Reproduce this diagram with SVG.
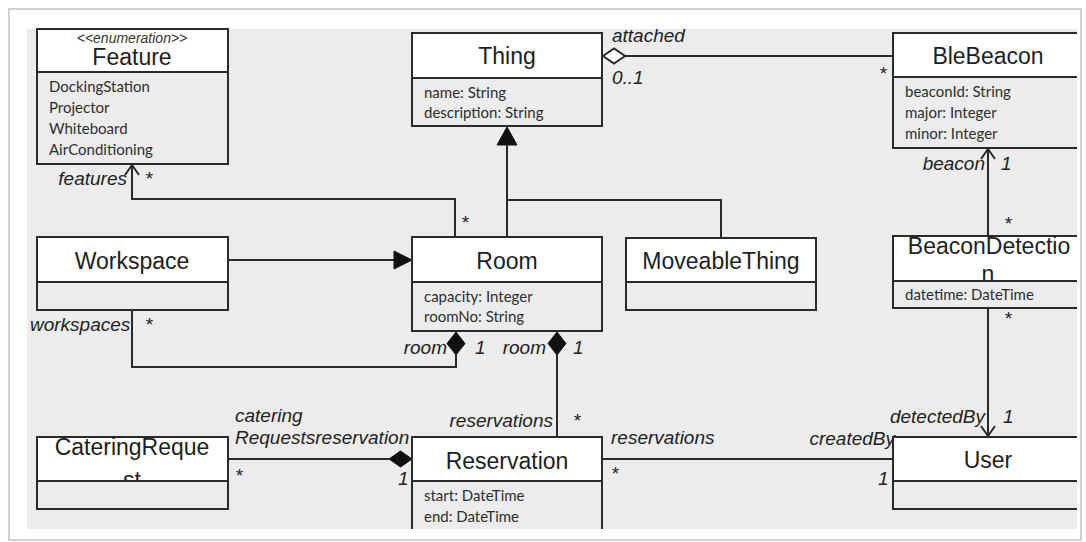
<svg xmlns="http://www.w3.org/2000/svg" width="1086" height="542" viewBox="0 0 1086 542">
<defs>
<style>
.box{fill:#ececec;stroke:#2a2a2a;stroke-width:2}
.hdr{fill:#ffffff;stroke:#2a2a2a;stroke-width:2}
.cmp{fill:#ececec;stroke:#2a2a2a;stroke-width:2}
.name{font-family:"Liberation Sans",Arial,sans-serif;font-size:23px;fill:#1e1e1e;text-anchor:middle}
.attr{font-family:Lato,"Open Sans",sans-serif;font-size:15px;fill:#2e2e2e}
.ster{font-family:"Liberation Sans",Arial,sans-serif;font-size:14px;font-style:italic;fill:#333;text-anchor:middle}
.lbl{font-family:"Liberation Sans",Arial,sans-serif;font-size:19px;font-style:italic;fill:#222}
.end{text-anchor:end}
.ln{fill:none;stroke:#2a2a2a;stroke-width:2}
.solid{fill:#111;stroke:#111;stroke-width:1}
.hollow{fill:#fff;stroke:#2a2a2a;stroke-width:2}
</style>
<clipPath id="area"><rect x="27" y="27" width="1050" height="502"/></clipPath>
</defs>
<rect x="0" y="0" width="1086" height="542" fill="#ffffff"/>
<rect x="9" y="9" width="1072" height="531" fill="#ffffff" stroke="#d0d0d0" stroke-width="2"/>
<rect x="27" y="29" width="1050" height="500" fill="#ececec"/>
<g clip-path="url(#area)">
<g id="connectors">
<polyline class="ln" points="455,237 455,199 132,199 132,165"/>
<polyline class="ln" points="125,175 132,165 139,175"/>
<polyline class="ln" points="507,237 507,145"/>
<polyline class="ln" points="721,238 721,200 507,200"/>
<polygon class="solid" points="507,127 497,145 517,145"/>
<line class="ln" x1="228" y1="260" x2="395" y2="260"/>
<polygon class="solid" points="412,260 394,251 394,269"/>
<polyline class="ln" points="132,310 132,367 456,367 456,355"/>
<polygon class="solid" points="456,332 465,343.5 456,355 447,343.5"/>
<line class="ln" x1="557" y1="355" x2="557" y2="437"/>
<polygon class="solid" points="557,332 566,343.5 557,355 548,343.5"/>
<line class="ln" x1="625" y1="56" x2="893" y2="56"/>
<polygon class="hollow" points="603,56 614,48.5 625,56 614,63.5"/>
<line class="ln" x1="988" y1="149" x2="988" y2="236"/>
<polyline class="ln" points="981,159 988,149 995,159"/>
<line class="ln" x1="988" y1="308" x2="988" y2="436"/>
<polyline class="ln" points="981,426 988,436 995,426"/>
<line class="ln" x1="228" y1="459" x2="389" y2="459"/>
<polygon class="solid" points="389,459 400.5,451 412,459 400.5,467"/>
<line class="ln" x1="602" y1="459" x2="893" y2="459"/>
</g>
<g id="labels">
<text class="lbl end" x="127" y="185">features</text>
<text class="lbl" x="145" y="185">*</text>
<text class="lbl" x="612" y="42">attached</text>
<text class="lbl" x="612" y="84">0..1</text>
<text class="lbl" x="879" y="80">*</text>
<text class="lbl end" x="985" y="170">beacon</text>
<text class="lbl" x="1001" y="170">1</text>
<text class="lbl" x="1004" y="230">*</text>
<text class="lbl" x="1004" y="325">*</text>
<text class="lbl" x="461" y="229">*</text>
<text class="lbl" x="30" y="331">workspaces</text>
<text class="lbl" x="145" y="331">*</text>
<text class="lbl end" x="447" y="354">room</text>
<text class="lbl" x="475" y="354">1</text>
<text class="lbl end" x="546" y="354">room</text>
<text class="lbl" x="573" y="354">1</text>
<text class="lbl end" x="553" y="427">reservations</text>
<text class="lbl" x="573" y="427">*</text>
<text class="lbl" x="235" y="422">catering</text>
<text class="lbl" x="235" y="444">Requestsreservation</text>
<text class="lbl" x="235" y="482">*</text>
<text class="lbl" x="398" y="485">1</text>
<text class="lbl" x="611" y="444">reservations</text>
<text class="lbl" x="611" y="480">*</text>
<text class="lbl end" x="895" y="445">createdBy</text>
<text class="lbl" x="878" y="485">1</text>
<text class="lbl end" x="985" y="423">detectedBy</text>
<text class="lbl" x="1003" y="423">1</text>
</g>
<g id="feature">
<rect class="hdr" x="37" y="29" width="191" height="43"/>
<text class="ster" x="132" y="43">&lt;&lt;enumeration&gt;&gt;</text>
<text class="name" x="132" y="65">Feature</text>
<rect class="cmp" x="37" y="72" width="191" height="92"/>
<text class="attr" x="49" y="92">DockingStation</text>
<text class="attr" x="49" y="113">Projector</text>
<text class="attr" x="49" y="134">Whiteboard</text>
<text class="attr" x="49" y="155">AirConditioning</text>
</g>
<g id="thing">
<rect class="hdr" x="412" y="33" width="190" height="45"/>
<text class="name" x="507" y="64">Thing</text>
<rect class="cmp" x="412" y="78" width="190" height="48"/>
<text class="attr" x="424" y="98">name: String</text>
<text class="attr" x="424" y="118">description: String</text>
</g>
<g id="blebeacon">
<rect class="hdr" x="893" y="33" width="190" height="44"/>
<text class="name" x="988" y="64">BleBeacon</text>
<rect class="cmp" x="893" y="77" width="190" height="71"/>
<text class="attr" x="905" y="97">beaconId: String</text>
<text class="attr" x="905" y="118">major: Integer</text>
<text class="attr" x="905" y="139">minor: Integer</text>
</g>
<g id="workspace">
<rect class="hdr" x="37" y="237" width="191" height="45"/>
<text class="name" x="132" y="269">Workspace</text>
<rect class="cmp" x="37" y="282" width="191" height="28"/>
</g>
<g id="room">
<rect class="hdr" x="412" y="237" width="190" height="45"/>
<text class="name" x="507" y="269">Room</text>
<rect class="cmp" x="412" y="282" width="190" height="49"/>
<text class="attr" x="424" y="302">capacity: Integer</text>
<text class="attr" x="424" y="322">roomNo: String</text>
</g>
<g id="moveablething">
<rect class="hdr" x="626" y="238" width="190" height="44"/>
<text class="name" x="721" y="269">MoveableThing</text>
<rect class="cmp" x="626" y="282" width="190" height="28"/>
</g>
<g id="beacondetection">
<rect class="hdr" x="893" y="236" width="190" height="45"/>
<text class="name" x="989" y="254">BeaconDetectio</text>
<text class="name" x="988" y="282">n</text>
<rect class="cmp" x="893" y="281" width="190" height="27"/>
<text class="attr" x="905" y="300">datetime: DateTime</text>
</g>
<g id="cateringrequest">
<rect class="hdr" x="37" y="437" width="191" height="44"/>
<text class="name" x="132" y="455">CateringReque</text>
<text class="name" x="132" y="488">st</text>
<rect class="cmp" x="37" y="481" width="191" height="28"/>
</g>
<g id="reservation">
<rect class="hdr" x="412" y="437" width="190" height="44"/>
<text class="name" x="507" y="469">Reservation</text>
<rect class="cmp" x="412" y="481" width="190" height="60"/>
<text class="attr" x="424" y="501">start: DateTime</text>
<text class="attr" x="424" y="522">end: DateTime</text>
</g>
<g id="user">
<rect class="hdr" x="893" y="437" width="190" height="44"/>
<text class="name" x="988" y="468">User</text>
<rect class="cmp" x="893" y="481" width="190" height="28"/>
</g>
</g>
</svg>
